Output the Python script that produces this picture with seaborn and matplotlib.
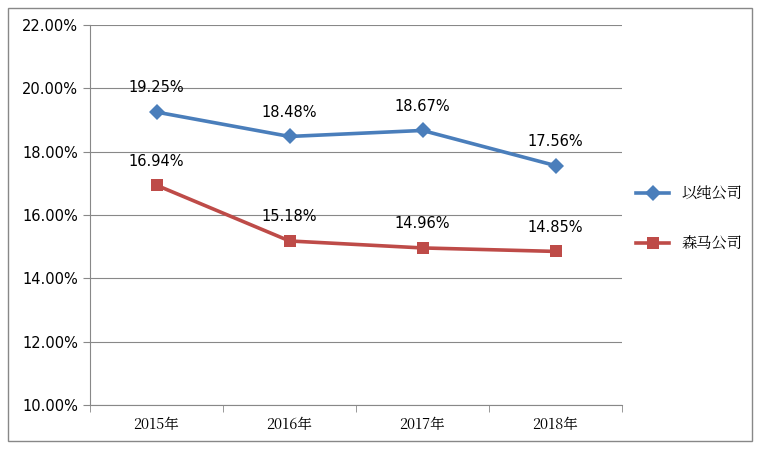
import matplotlib
matplotlib.use("Agg")
import matplotlib.pyplot as plt
from matplotlib import font_manager
import seaborn as sns
import pandas as pd
from matplotlib.patches import Rectangle
from matplotlib.ticker import FuncFormatter, FixedLocator

cjk = [f.name for f in font_manager.fontManager.ttflist if "CJK" in f.name]
pref = [n for n in cjk if "SC" in n] or cjk
plt.rcParams["font.family"] = "sans-serif"
plt.rcParams["font.sans-serif"] = ["DejaVu Sans"] + (pref[:1] if pref else [])
cjk_font = pref[0] if pref else "DejaVu Sans"

categories = ["2015年", "2016年", "2017年", "2018年"]
series_names = ["以纯公司", "森马公司"]
yichun = [19.25, 18.48, 18.67, 17.56]
senma = [16.94, 15.18, 14.96, 14.85]
colors = ["#4A7EBB", "#BE4B48"]
markers = ["D", "s"]

df = pd.DataFrame({
    "x": list(range(len(categories))) * 2,
    "value": yichun + senma,
    "series": [series_names[0]] * 4 + [series_names[1]] * 4,
})

fig = plt.figure(figsize=(7.59, 4.49), dpi=100)
ax = fig.add_axes([90/759, 1-405/449, 532/759, 380/449])
sns.lineplot(data=df, x="x", y="value", hue="series", style="series",
             palette=colors, markers=markers, dashes=False, linewidth=2.6,
             markersize=8, markeredgewidth=0, ax=ax)

for vals in [yichun, senma]:
    for i, v in enumerate(vals):
        ax.annotate(f"{v:.2f}%", (i, v), xytext=(0, 12), textcoords="offset points",
                    ha="center", va="bottom", fontsize=10.5)

ax.set_xlim(-0.5, 3.5)
ax.set_ylim(10, 22)
ax.set_yticks([10, 12, 14, 16, 18, 20, 22])
ax.yaxis.set_major_formatter(FuncFormatter(lambda v, p: f"{v:.2f}%"))
ax.set_xticks(range(4))
ax.set_xticklabels(categories, fontfamily=cjk_font)
ax.xaxis.set_minor_locator(FixedLocator([-0.5, 0.5, 1.5, 2.5, 3.5]))
ax.tick_params(axis="x", which="major", length=0, labelsize=10.5, pad=8)
ax.tick_params(axis="x", which="minor", length=5, color="#888888")
ax.tick_params(axis="y", length=5, color="#888888", labelsize=10.5)
ax.set_xlabel("")
ax.set_ylabel("")
ax.grid(axis="y", color="#888888", linewidth=0.8)
ax.set_axisbelow(True)
for s in ["top", "right"]:
    ax.spines[s].set_visible(False)
for s in ["left", "bottom"]:
    ax.spines[s].set_color("#888888")

ax.legend(loc="center left", bbox_to_anchor=(1.0, 0.49), frameon=False,
          prop={"family": cjk_font, "size": 11}, handlelength=2.2, labelspacing=2.2)

fig.patches.append(Rectangle((8/759, 8/449), 744/759, 433/449, transform=fig.transFigure,
                             fill=False, edgecolor="#888888", linewidth=1))
fig.savefig("out.png", dpi=100)
